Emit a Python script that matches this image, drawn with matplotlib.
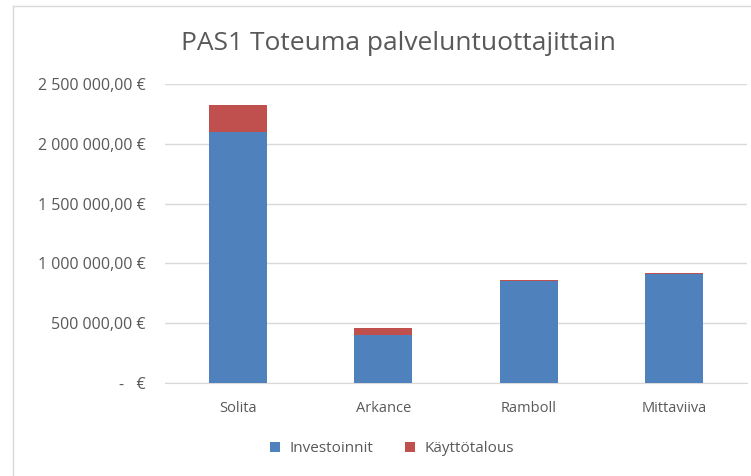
import matplotlib
matplotlib.use('Agg')
import matplotlib.pyplot as plt
from matplotlib.lines import Line2D
from matplotlib.ticker import FuncFormatter
import numpy as np

plt.rcParams['font.family'] = ['Open Sans', 'DejaVu Sans']

# data
providers = ['Solita', 'Arkance', 'Ramboll', 'Mittaviiva']
investoinnit = [2095000, 400000, 854000, 915000]
kayttotalous = [230000, 56000, 10000, 7000]
y_ticks = [0, 500000, 1000000, 1500000, 2000000, 2500000]

blue = '#4F81BD'
red = '#C0504D'
grey_text = '#595959'

def euro(v, pos=None):
    if v == 0:
        return '-   €'
    s = f'{v:,.2f}'.replace(',', ' ').replace('.', ',')
    return s + ' €'

fig = plt.figure(figsize=(7.51, 4.76), dpi=100)
ax = fig.add_axes([165/751, 93/476, 582/751, 299/476])

x = np.arange(len(providers))
ax.bar(x, investoinnit, width=0.4, color=blue, label='Investoinnit', zorder=3)
ax.bar(x, kayttotalous, width=0.4, bottom=investoinnit, color=red, label='Käyttötalous', zorder=3)

ax.set_xlim(-0.5, len(providers) - 0.5)
ax.set_ylim(0, 2500000)
ax.set_yticks(y_ticks)
ax.yaxis.set_major_formatter(FuncFormatter(euro))
ax.set_xticks(x)
ax.set_xticklabels(providers)
ax.grid(axis='y', color='#d9d9d9', linewidth=1, zorder=0)
for s in ['top', 'right', 'left']:
    ax.spines[s].set_visible(False)
ax.spines['bottom'].set_color('#d9d9d9')
ax.tick_params(axis='y', length=0, pad=14, labelsize=11.5, labelcolor=grey_text)
ax.tick_params(axis='x', length=0, pad=13, labelsize=10.5, labelcolor=grey_text)

fig.text(398/751, 1 - 44/476, 'PAS1 Toteuma palveluntuottajittain', ha='center', va='center',
         fontsize=19, color=grey_text)

fig.legend(loc='center', bbox_to_anchor=(392/751, 27/476), ncol=2, frameon=False,
           fontsize=11, handlelength=0.65, handleheight=0.65, columnspacing=2.1,
           handletextpad=0.6, labelcolor=grey_text)

# chart border (cut off at right and bottom like the screenshot)
fig.add_artist(Line2D([13/751, 13/751], [0, 1 - 6/476], transform=fig.transFigure, color='#d9d9d9', lw=1))
fig.add_artist(Line2D([13/751, 1], [1 - 6/476, 1 - 6/476], transform=fig.transFigure, color='#d9d9d9', lw=1))

fig.savefig('out.png', dpi=100)
